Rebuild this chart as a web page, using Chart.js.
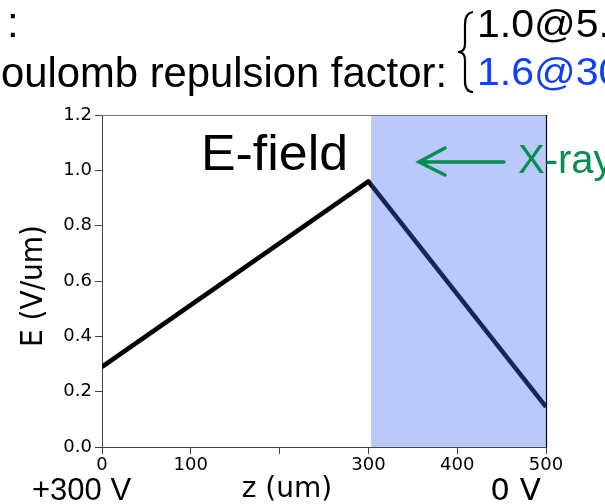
<!DOCTYPE html>
<html>
<head>
<meta charset="utf-8">
<script src="https://cdn.jsdelivr.net/npm/chart.js@4"></script>
<style>
    html, body { margin: 0; padding: 0; background: #fff; }
    #efieldChart { display: block; }
</style>
</head>
<body>
<canvas id="efieldChart" width="605" height="504"></canvas>
<script>
// E-field profile along z (um -> V/um)
const zPoints = [0, 300, 500];
const eField = [0.29, 0.96, 0.145];

// X-ray absorption region (shaded band)
const xrayRegion = [303, 500];

// Tick labels (200 label is blank in the original)
const xTickLabels = ['0', '100', '', '300', '400', '500'];
const yTickLabels = ['0.0', '0.2', '0.4', '0.6', '0.8', '1.0', '1.2'];

// Coulomb repulsion factor lines
const factorLines = ['1.0@5.', '1.6@30'];
const factorColors = ['#000000', '#1040ff'];

const GREEN = '#008f4f';

// draw text stretched horizontally so that it spans [left, right]
function fitText(ctx, text, left, right, y) {
    const w = ctx.measureText(text).width;
    ctx.save();
    ctx.translate(left, y);
    ctx.scale((right - left) / w, 1);
    ctx.textAlign = 'left';
    ctx.fillText(text, 0, 0);
    ctx.restore();
}

// Spines, shaded band and free text
const decorPlugin = {
    id: 'decor',
    beforeDatasetsDraw(chart) {
        const { ctx, chartArea } = chart;
        ctx.save();
        ctx.strokeStyle = '#777';
        ctx.lineWidth = 1;
        ctx.beginPath();
        ctx.moveTo(chartArea.left, chartArea.top + 0.5);
        ctx.lineTo(chartArea.right, chartArea.top + 0.5);
        ctx.stroke();
        ctx.restore();
    },
    afterDatasetsDraw(chart) {
        const { ctx, chartArea, scales } = chart;
        const x0 = scales.x.getPixelForValue(xrayRegion[0]);
        const x1 = scales.x.getPixelForValue(xrayRegion[1]);
        ctx.save();
        ctx.fillStyle = 'rgba(65, 105, 240, 0.36)';
        ctx.fillRect(x0, chartArea.top, x1 - x0, chartArea.bottom - chartArea.top);

        // right spine
        ctx.strokeStyle = '#000';
        ctx.lineWidth = 1.2;
        ctx.beginPath();
        ctx.moveTo(chartArea.right + 0.5, chartArea.top);
        ctx.lineTo(chartArea.right + 0.5, chartArea.bottom);
        ctx.stroke();
        ctx.restore();
    },
    afterDraw(chart) {
        const { ctx } = chart;
        ctx.save();
        ctx.textBaseline = 'alphabetic';

        // top annotation
        ctx.fillStyle = '#000';
        ctx.font = '42px "Liberation Sans", Arial, sans-serif';
        ctx.textAlign = 'left';
        ctx.fillText(':', 7, 37);
        // "C" falls off the left edge in the original
        const head = 'oulomb repulsion factor:';
        const headW = ctx.measureText(head).width;
        const sx = 446 / headW;
        ctx.save();
        ctx.translate(1, 87);
        ctx.scale(sx, 1);
        ctx.textAlign = 'right';
        ctx.fillText('C', 0, 0);
        ctx.textAlign = 'left';
        ctx.fillText(head, 0, 0);
        ctx.restore();

        // brace
        ctx.strokeStyle = '#000';
        ctx.lineWidth = 2.2;
        ctx.beginPath();
        ctx.moveTo(473, 12);
        ctx.quadraticCurveTo(465, 13, 465, 24);
        ctx.lineTo(465, 44);
        ctx.quadraticCurveTo(465, 52, 458, 52);
        ctx.quadraticCurveTo(465, 52, 465, 60);
        ctx.lineTo(465, 81);
        ctx.quadraticCurveTo(465, 92, 473, 92);
        ctx.stroke();

        ctx.font = '38px "Liberation Sans", Arial, sans-serif';
        factorLines.forEach((t, i) => {
            ctx.fillStyle = factorColors[i];
            ctx.save();
            ctx.translate(477, i === 0 ? 37 : 85);
            ctx.scale(1.08, 1);
            ctx.textAlign = 'left';
            ctx.fillText(t, 0, 0);
            ctx.restore();
        });

        // E-field label
        ctx.fillStyle = '#000';
        ctx.font = '50px "Liberation Sans", Arial, sans-serif';
        fitText(ctx, 'E-field', 201, 348, 170);

        // X-ray arrow and label
        ctx.strokeStyle = GREEN;
        ctx.fillStyle = GREEN;
        ctx.lineWidth = 3.5;
        ctx.lineCap = 'round';
        ctx.beginPath();
        ctx.moveTo(504, 162);
        ctx.lineTo(419, 162);
        ctx.moveTo(445, 148);
        ctx.lineTo(419, 162);
        ctx.lineTo(445, 175);
        ctx.stroke();
        ctx.font = '40px "Liberation Sans", Arial, sans-serif';
        ctx.fillText('X-ray', 518, 173);

        // y axis title
        ctx.fillStyle = '#000';
        ctx.font = '28px "DejaVu Sans", sans-serif';
        ctx.save();
        ctx.translate(42, 286);
        ctx.rotate(-Math.PI / 2);
        ctx.scale(1, 1.1);
        ctx.textAlign = 'center';
        ctx.fillText('E (V/um)', 0, 0);
        ctx.restore();

        // x axis title and electrode voltages
        ctx.textAlign = 'center';
        ctx.fillText('z (um)', 287, 497);
        ctx.textAlign = 'left';
        ctx.font = '31px "Liberation Sans", Arial, sans-serif';
        ctx.fillText('+300 V', 32, 500);
        ctx.textAlign = 'right';
        ctx.font = '31px "DejaVu Sans", sans-serif';
        ctx.fillText('0 V', 541, 500);
        ctx.restore();
    }
};

const tickFont = { family: '"DejaVu Sans", sans-serif', size: 18 };

new Chart(document.getElementById('efieldChart'), {
    type: 'line',
    data: {
        datasets: [{
            label: 'E-field',
            data: zPoints.map((z, i) => ({ x: z, y: eField[i] })),
            borderColor: '#000',
            borderWidth: 4.6,
            borderJoinStyle: 'round',
            pointRadius: 0,
            tension: 0,
            fill: false
        }]
    },
    options: {
        responsive: false,
        animation: false,
        layout: {
            padding: { left: 0, right: 59, top: 115, bottom: 0 }
        },
        plugins: {
            legend: { display: false },
            tooltip: { enabled: false }
        },
        scales: {
            x: {
                type: 'linear',
                min: 0,
                max: 500,
                afterFit(scale) { scale.height = 57; },
                border: { display: true, color: '#444', width: 1 },
                grid: { drawOnChartArea: false, drawTicks: true, tickLength: 7, color: '#444' },
                ticks: {
                    stepSize: 100,
                    padding: 1,
                    maxRotation: 0,
                    color: '#000',
                    font: tickFont,
                    callback: (v, i) => xTickLabels[i]
                }
            },
            y: {
                min: 0,
                max: 1.2,
                afterFit(scale) { scale.width = 102; },
                border: { display: true, color: '#444', width: 1 },
                grid: { drawOnChartArea: false, drawTicks: true, tickLength: 7, color: '#444' },
                ticks: {
                    stepSize: 0.2,
                    padding: 3,
                    color: '#000',
                    font: tickFont,
                    callback: (v, i) => yTickLabels[i]
                }
            }
        }
    },
    plugins: [decorPlugin]
});
</script>
</body>
</html>
